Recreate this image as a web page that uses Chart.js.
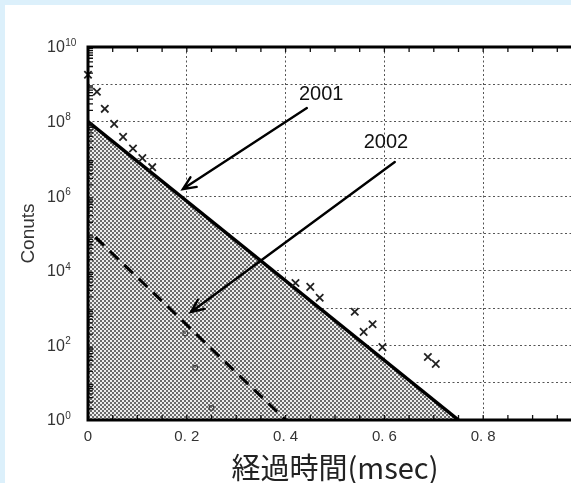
<!DOCTYPE html>
<html><head><meta charset="utf-8">
<script src="https://cdn.jsdelivr.net/npm/chart.js@4.4.1/dist/chart.umd.min.js"></script>
<style>
html,body{margin:0;padding:0;overflow:hidden;background:#dcf0fb;width:571px;height:483px;}
#panel{position:absolute;left:5px;top:5px;width:700px;height:600px;background:#fff;}
#wrap{position:absolute;left:0;top:0;width:600px;height:483px;}
</style></head><body>
<div id="panel"></div>
<div id="wrap"><canvas id="c" width="600" height="483"></canvas></div>
<script>
// ---- data ----
const line2001X = [0, 0.75];
const line2001Y = [1e8, 1];
const line2002X = [0.015, 0.4];
const line2002Y = [8e4, 1];
const crossX = [0.0, 0.018, 0.034, 0.053, 0.071, 0.091, 0.11, 0.13, 0.42, 0.45, 0.469, 0.54, 0.558, 0.576, 0.596, 0.688, 0.704];
const crossY = [1.8e9, 6.3e8, 2.2e8, 8.7e7, 3.9e7, 1.9e7, 1.05e7, 6e6, 4.7e3, 3.7e3, 1.9e3, 8e2, 2.3e2, 3.7e2, 9e1, 4.9e1, 3.2e1];
const circleX = [0.197, 0.217, 0.25];
const circleY = [2.1e2, 2.5e1, 2.1];
const labelText = ['2001', '2002'];
const labelX = [0.472, 0.603];
const labelY = [5.2e8, 2.8e7];
const arrowFromX = [0.443, 0.621];
const arrowFromY = [2.3e8, 8.3e6];
const arrowToX = [0.192, 0.2085];
const arrowToY = [1.55e6, 7.9e2];
const xTicks = [0, 0.2, 0.4, 0.6, 0.8, 1.0];
const xTickLabels = ['0', '0. 2', '0. 4', '0. 6', '0. 8', ''];
const xMinorTicks = [0.05,0.1,0.15,0.2,0.25,0.3,0.35,0.4,0.45,0.5,0.55,0.6,0.65,0.7,0.75,0.8,0.85,0.9,0.95];
const yDecades = [0,1,2,3,4,5,6,7,8,9,10];
const yLabelExps = [0,2,4,6,8,10];
const yTitle = 'Conuts';
const xTitle = '経過時間(msec)';

const pts = (xs, ys) => xs.map((v, i) => ({x: v, y: ys[i]}));
const canvas = document.getElementById('c');
const ctx0 = canvas.getContext('2d');
function makePattern(){
  const p = document.createElement('canvas'); p.width = 4; p.height = 4;
  const g = p.getContext('2d');
  g.fillStyle = '#ececec'; g.fillRect(0,0,4,4);
  g.fillStyle = '#6a6a6a'; g.fillRect(0,0,2,2); g.fillRect(2,2,2,2);
  return ctx0.createPattern(p, 'repeat');
}
const hatch = makePattern();

const deco = {
  id: 'deco',
  afterDatasetsDraw(chart){
    const {ctx, chartArea: a, scales: {x, y}} = chart;
    ctx.save();
    // inward minor ticks
    ctx.strokeStyle = '#111'; ctx.lineWidth = 1.3;
    ctx.beginPath();
    for (const v of xMinorTicks){
      const px = x.getPixelForValue(v);
      ctx.moveTo(px, a.top); ctx.lineTo(px, a.top + 5);
      ctx.moveTo(px, a.bottom); ctx.lineTo(px, a.bottom - 5);
    }
    for (const d of yDecades){
      if (d === 10) continue;
      for (let m = 2; m <= 9; m++){
        const py = y.getPixelForValue(m * Math.pow(10, d));
        ctx.moveTo(a.left, py); ctx.lineTo(a.left + 5, py);
      }
    }
    ctx.stroke();
    // frame
    ctx.lineWidth = 3; ctx.strokeStyle = '#000';
    ctx.beginPath();
    ctx.moveTo(a.right + 5, a.top); ctx.lineTo(a.left, a.top); ctx.lineTo(a.left, a.bottom); ctx.lineTo(a.right + 5, a.bottom);
    ctx.stroke();
    // arrows
    ctx.lineWidth = 2.4; ctx.lineCap = 'round';
    for (let i = 0; i < arrowFromX.length; i++){
      const x1 = x.getPixelForValue(arrowFromX[i]), y1 = y.getPixelForValue(arrowFromY[i]);
      const x2 = x.getPixelForValue(arrowToX[i]), y2 = y.getPixelForValue(arrowToY[i]);
      const ang = Math.atan2(y2 - y1, x2 - x1);
      ctx.beginPath();
      ctx.moveTo(x1, y1); ctx.lineTo(x2, y2);
      const L = 14, h = 0.42;
      ctx.moveTo(x2 - L * Math.cos(ang - h), y2 - L * Math.sin(ang - h));
      ctx.lineTo(x2, y2);
      ctx.lineTo(x2 - L * Math.cos(ang + h), y2 - L * Math.sin(ang + h));
      ctx.stroke();
    }
    // labels
    ctx.fillStyle = '#111';
    ctx.font = '20px "Liberation Sans", Arial, sans-serif';
    ctx.textAlign = 'center'; ctx.textBaseline = 'middle';
    for (let i = 0; i < labelText.length; i++){
      ctx.fillText(labelText[i], x.getPixelForValue(labelX[i]), y.getPixelForValue(labelY[i]));
    }
    ctx.restore();
  },
  afterDraw(chart){
    const {ctx, scales: {y}} = chart;
    ctx.save();
    ctx.fillStyle = '#333';
    ctx.textAlign = 'left'; ctx.textBaseline = 'middle';
    for (const e of yLabelExps){
      const py = y.getPixelForValue(Math.pow(10, e));
      ctx.font = '16px "Liberation Sans", Arial, sans-serif';
      ctx.fillText('10', 47, py + 1);
      const w = ctx.measureText('10').width;
      ctx.font = '10px "Liberation Sans", Arial, sans-serif';
      ctx.fillText(String(e), 47 + w + 0.5, py - 4);
    }
    ctx.restore();
  }
};

new Chart(canvas, {
  type: 'scatter',
  data: {
    datasets: [
      {label: 'cross', data: pts(crossX, crossY), pointStyle: 'crossRot', pointRadius: 5.2,
       borderColor: '#222', borderWidth: 1.8, showLine: false, order: 1, clip: 10},
      {label: 'circle', data: pts(circleX, circleY), pointStyle: 'circle', pointRadius: 2.4,
       borderColor: '#444', backgroundColor: 'rgba(0,0,0,0)', borderWidth: 1.2, showLine: false, order: 2},
      {label: '2002', data: pts(line2002X, line2002Y), showLine: true, borderColor: '#000',
       borderWidth: 3, borderDash: [12, 8], pointRadius: 0, fill: false, order: 3},
      {label: '2001', data: pts(line2001X, line2001Y), showLine: true, borderColor: '#000',
       borderWidth: 3.5, pointRadius: 0, fill: 'start', backgroundColor: hatch, order: 4}
    ]
  },
  options: {
    responsive: false, animation: false, devicePixelRatio: 1,
    layout: {padding: {top: 47, right: 18, left: 0, bottom: 0}},
    plugins: {legend: {display: false}, tooltip: {enabled: false}},
    scales: {
      x: {
        type: 'linear', min: 0, max: 1.0,
        afterBuildTicks: s => { s.ticks = xTicks.map(v => ({value: v})); },
        afterFit: s => { s.height = 63; },
        ticks: {callback: (v, i) => xTickLabels[i], color: '#333', padding: 8,
                font: {size: 15, family: '"Liberation Sans", Arial, sans-serif'}, maxRotation: 0, autoSkip: false},
        grid: {color: '#555', lineWidth: 1, drawTicks: false},
        border: {display: false, dash: [2, 2.5]},
        title: {display: true, text: xTitle, color: '#222',
                font: {size: 29, family: '"Noto Sans CJK JP", sans-serif', lineHeight: 1.0},
                padding: {top: 0, bottom: 1}}
      },
      y: {
        type: 'logarithmic', min: 1, max: 1e10,
        afterBuildTicks: s => { s.ticks = yDecades.map(d => ({value: Math.pow(10, d)})); },
        afterFit: s => { s.width = 88; },
        ticks: {callback: () => '', padding: 0},
        grid: {color: '#555', lineWidth: 1, drawTicks: false},
        border: {display: false, dash: [2, 2.5]},
        title: {display: true, text: yTitle, color: '#333',
                font: {size: 19, family: '"Liberation Sans", Arial, sans-serif'},
                padding: {top: 17, bottom: 0}}
      }
    }
  },
  plugins: [deco]
});
</script>
</body></html>
